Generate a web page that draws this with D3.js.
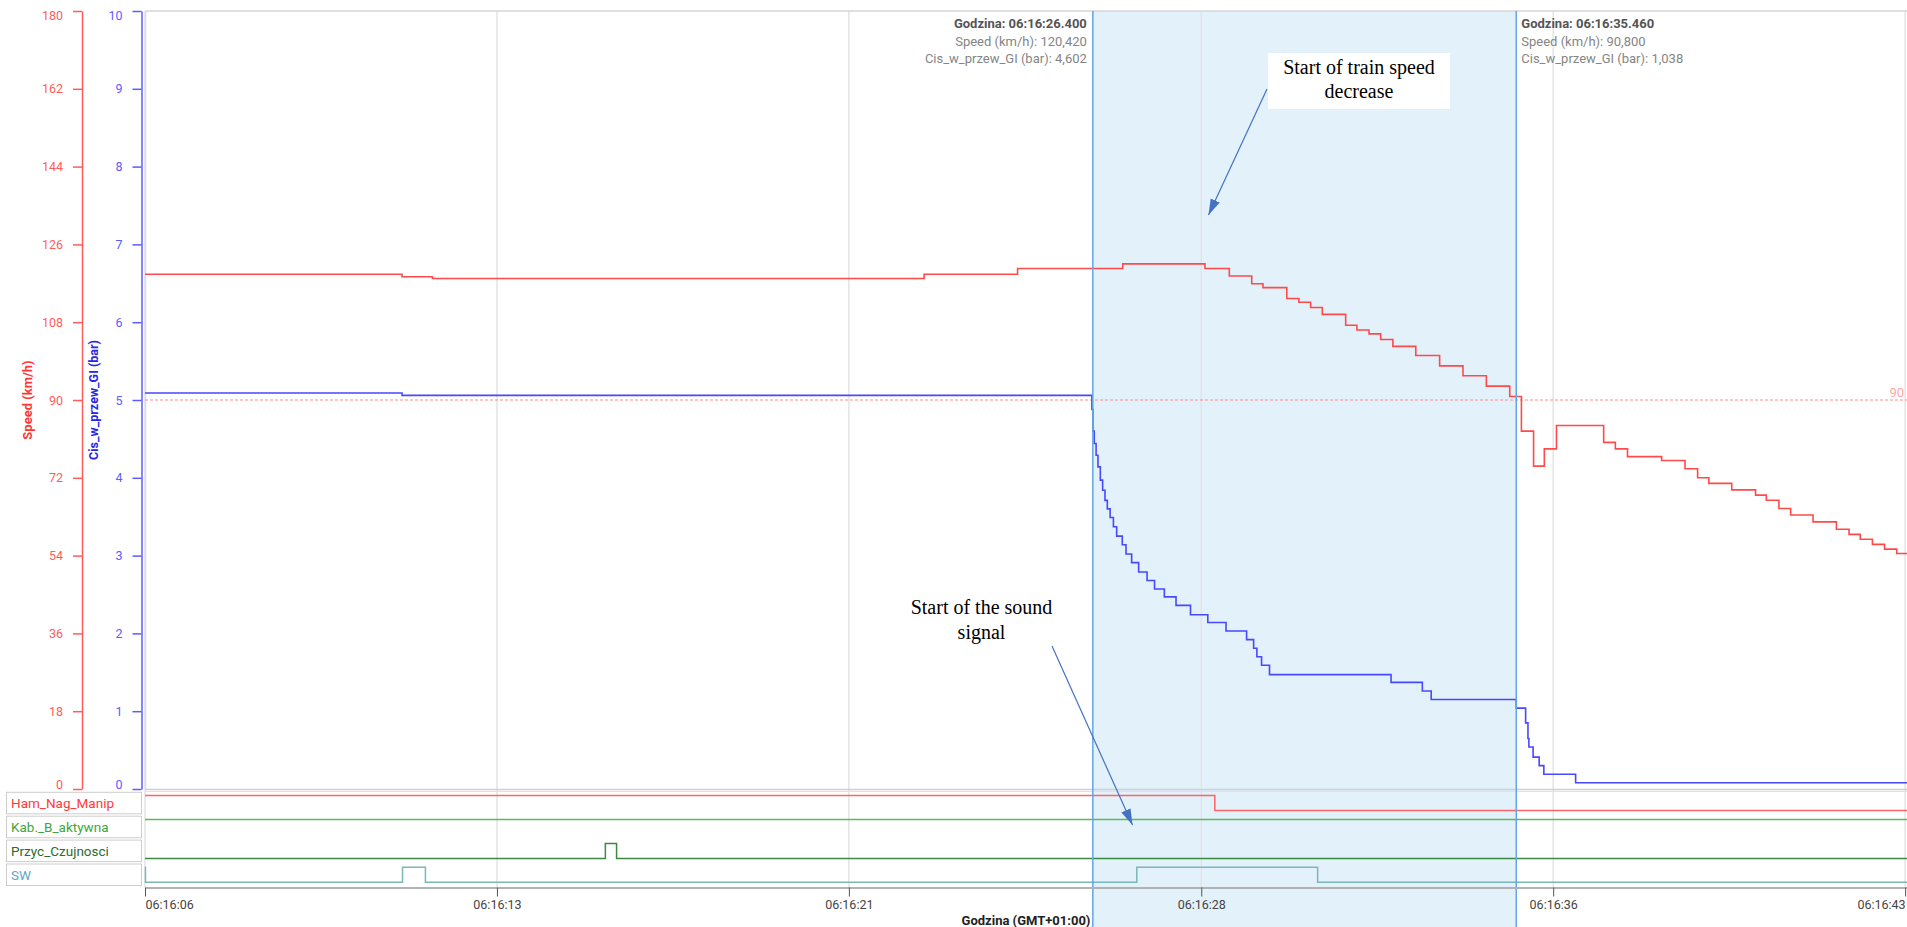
<!DOCTYPE html>
<html>
<head>
<meta charset="utf-8">
<script src="https://cdn.jsdelivr.net/npm/d3@7"></script>
<style>
  body { margin: 0; background: #fff; }
  svg { display: block; }
</style>
</head>
<body>
<svg></svg>
<script>
// times are seconds after 06:16:00
const speedT = [6.12, 11.62, 12.27, 22.79, 24.79, 27.04, 28.80, 29.32, 29.80, 30.04, 30.55, 30.81, 31.06, 31.31,
    31.81, 32.05, 32.31, 32.56, 32.82, 33.31, 33.82, 34.32, 34.82, 35.32, 35.57, 35.83, 36.06, 36.32, 37.33,
    37.58, 37.84, 38.57, 39.07, 39.34, 39.58, 40.07, 40.58, 40.81, 41.08, 41.33, 41.81, 42.31, 42.58, 42.82,
    43.08, 43.34, 43.60, 43.82];
const speedV = [119.1, 118.5, 118.1, 119.1, 120.42, 121.5, 120.42, 118.7, 116.9, 116.0, 113.5, 112.6, 111.4, 109.8,
    107.3, 106.2, 105.3, 104.0, 102.4, 100.3, 97.9, 95.6, 93.2, 90.8, 82.8, 74.7, 78.7, 84.1, 80.2,
    78.7, 76.9, 76.0, 74.1, 72.0, 70.7, 69.2, 68.0, 66.8, 64.9, 63.4, 61.8, 60.1, 58.9, 57.8,
    56.6, 55.5, 54.5, 54.5];

const presT = [6.12, 11.62, 26.38, 26.40, 26.43, 26.47, 26.51, 26.56, 26.61, 26.66, 26.71, 26.77, 26.84, 26.91,
    27.03, 27.11, 27.23, 27.38, 27.56, 27.72, 27.93, 28.18, 28.49, 28.86, 29.25, 29.69, 29.84, 29.91, 30.01,
    30.18, 32.78, 33.45, 33.64, 35.46, 35.66, 35.71, 35.73, 35.82, 35.95, 36.05, 36.73, 43.82];
const presV = [5.09, 5.06, 4.88, 4.602, 4.44, 4.29, 4.14, 3.97, 3.84, 3.71, 3.60, 3.49, 3.37, 3.25,
    3.14, 3.02, 2.91, 2.79, 2.68, 2.57, 2.47, 2.36, 2.24, 2.14, 2.03, 1.92, 1.81, 1.70, 1.59,
    1.47, 1.37, 1.26, 1.15, 1.04, 0.85, 0.65, 0.54, 0.41, 0.30, 0.19, 0.08, 0.08];

// digital signals (1 = high, 0 = low)
const signalNames = ["Ham_Nag_Manip", "Kab._B_aktywna", "Przyc_Czujnosci", "SW"];
const hamT = [6.12, 29.01], hamV = [1, 0];
const kabT = [6.12], kabV = [1];
const przycT = [6.12, 15.97, 16.21], przycV = [0, 1, 0];
const swT = [6.12, 6.13, 11.63, 12.12, 27.34, 31.21], swV = [1, 0, 1, 0, 1, 0];

// axes
const timeDomain = [6.12, 43.82];
const tickTimes = [6.12, 13.65, 21.18, 28.72, 36.25, 43.78];
const tickLabels = ["06:16:06", "06:16:13", "06:16:21", "06:16:28", "06:16:36", "06:16:43"];
const speedTicks = [0, 18, 36, 54, 72, 90, 108, 126, 144, 162, 180];
const presTicks = [0, 1, 2, 3, 4, 5, 6, 7, 8, 9, 10];
const refSpeed = 90;

// cursors
const cursorT = [26.4, 35.46];
const cursorSpeed = [120.42, 90.8];
const cursorPres = [4.602, 1.038];

var svgWidth = 1907, svgHeight = 927;
var plotLeft = 145, plotRight = 1907, plotTop = 11, plotBottom = 789;
var panelTop = 792.3, rowStep = 23.9, rowH = 21.5, axisY = 887.5;
var font = "Roboto, 'Open Sans', sans-serif";

var svg = d3.select("svg")
    .attr("width", svgWidth)
    .attr("height", svgHeight)
    .style("font-family", font);

svg.append("rect").attr("width", svgWidth).attr("height", svgHeight).attr("fill", "#fff");

var x = d3.scaleLinear().domain(timeDomain).range([plotLeft, plotRight]);
var ySpeed = d3.scaleLinear().domain([0, 180]).range([plotBottom, plotTop]);
var yPres = d3.scaleLinear().domain([0, 10]).range([plotBottom, plotTop]);

//cursor band
svg.append("rect")
    .attr("x", x(cursorT[0]))
    .attr("y", plotTop)
    .attr("width", x(cursorT[1]) - x(cursorT[0]))
    .attr("height", svgHeight - plotTop)
    .attr("fill", "#e3f1fb");

//vertical grid
svg.append("g").selectAll("line")
    .data(tickTimes)
    .enter()
    .append("line")
    .attr("x1", d => x(d)).attr("x2", d => x(d))
    .attr("y1", plotTop).attr("y2", axisY)
    .attr("stroke", "#e4e4e4")
    .attr("stroke-width", 1.5);

//frame
svg.append("line").attr("x1", plotLeft).attr("x2", plotRight).attr("y1", plotTop).attr("y2", plotTop)
    .attr("stroke", "#d6d6d6").attr("stroke-width", 1.5);
svg.append("line").attr("x1", plotLeft).attr("x2", plotRight).attr("y1", plotBottom + 0.5).attr("y2", plotBottom + 0.5)
    .attr("stroke", "#cfcfcf").attr("stroke-width", 1.5);
svg.append("line").attr("x1", plotLeft).attr("x2", plotRight).attr("y1", plotBottom + 2.5).attr("y2", plotBottom + 2.5)
    .attr("stroke", "#e2e2e2").attr("stroke-width", 1);
svg.append("line").attr("x1", plotLeft + 0.5).attr("x2", plotLeft + 0.5).attr("y1", plotTop).attr("y2", plotBottom)
    .attr("stroke", "#dcdcdc").attr("stroke-width", 1.5);

//reference line 90 km/h
svg.append("line")
    .attr("x1", plotLeft).attr("x2", plotRight)
    .attr("y1", ySpeed(refSpeed)).attr("y2", ySpeed(refSpeed))
    .attr("stroke", "#ff8c8c")
    .attr("stroke-width", 1)
    .attr("stroke-dasharray", "3,2");
svg.append("text")
    .attr("x", 1904).attr("y", ySpeed(refSpeed) - 3)
    .attr("text-anchor", "end")
    .attr("font-size", 13)
    .attr("fill", "#ffa6a6")
    .text(refSpeed);

//speed + pressure lines
var speedData = speedT.map((t, i) => ({ t: t, v: speedV[i] }));
var presData = presT.map((t, i) => ({ t: t, v: presV[i] }));

var speedLine = d3.line().x(d => x(d.t)).y(d => ySpeed(d.v)).curve(d3.curveStepAfter);
var presLine = d3.line().x(d => x(d.t)).y(d => yPres(d.v)).curve(d3.curveStepAfter);

svg.append("path")
    .attr("d", presLine(presData))
    .attr("fill", "none")
    .attr("stroke", "#4848ff")
    .attr("stroke-width", 1.6);

svg.append("path")
    .attr("d", speedLine(speedData))
    .attr("fill", "none")
    .attr("stroke", "#ff4a4a")
    .attr("stroke-width", 1.6);

//digital signals panel
var signals = [
    { name: signalNames[0], t: hamT, v: hamV, line: "#ff6464", text: "#ff3a3a" },
    { name: signalNames[1], t: kabT, v: kabV, line: "#5cb85c", text: "#3da63d" },
    { name: signalNames[2], t: przycT, v: przycV, line: "#3b8a44", text: "#2c6b2f" },
    { name: signalNames[3], t: swT, v: swV, line: "#7ab8b8", text: "#5aa8c4" }
];

signals.forEach((s, i) => {
    var top = panelTop + i * rowStep;
    var yRow = d3.scaleLinear().domain([0, 1]).range([top + 18.3, top + 3.3]);
    var pts = s.t.map((t, j) => ({ t: t, v: s.v[j] }));
    pts.push({ t: timeDomain[1], v: s.v[s.v.length - 1] });
    var sigLine = d3.line().x(d => x(d.t)).y(d => yRow(d.v)).curve(d3.curveStepAfter);

    svg.append("path")
        .attr("d", sigLine(pts))
        .attr("fill", "none")
        .attr("stroke", s.line)
        .attr("stroke-width", 1.5);

    svg.append("rect")
        .attr("x", 6.5).attr("y", top)
        .attr("width", 135).attr("height", rowH)
        .attr("fill", "#fff")
        .attr("stroke", "#cdcdcd");
    svg.append("text")
        .attr("x", 11).attr("y", top + rowH / 2)
        .attr("dominant-baseline", "central")
        .attr("font-size", 13.5)
        .attr("fill", s.text)
        .text(s.name);
});

//cursor lines
svg.selectAll(".cursor")
    .data(cursorT)
    .enter()
    .append("line")
    .attr("class", "cursor")
    .attr("x1", d => x(d)).attr("x2", d => x(d))
    .attr("y1", plotTop).attr("y2", svgHeight)
    .attr("stroke", "#62a6e8")
    .attr("stroke-width", 1.5);

//x axis
var xAxis = d3.axisBottom(x)
    .tickValues(tickTimes)
    .tickFormat((d, i) => tickLabels[i])
    .tickSize(9)
    .tickSizeOuter(0)
    .tickPadding(4);

var gx = svg.append("g")
    .attr("transform", "translate(0," + axisY + ")")
    .call(xAxis);
gx.select(".domain").attr("stroke", "#b2b2b2").attr("stroke-width", 2);
gx.selectAll(".tick line").attr("stroke", "#555");
gx.selectAll(".tick text")
    .attr("font-size", 12.5)
    .attr("font-family", font)
    .attr("fill", "#444")
    .attr("text-anchor", (d, i) => i === 0 ? "start" : (i === tickTimes.length - 1 ? "end" : "middle"));

svg.append("text")
    .attr("x", (plotLeft + plotRight) / 2)
    .attr("y", 925)
    .attr("text-anchor", "middle")
    .attr("font-size", 13)
    .attr("font-weight", "bold")
    .attr("fill", "#222")
    .text("Godzina (GMT+01:00)");

//y axes
function styleY(g, color, maxV) {
    g.select(".domain").attr("stroke", color).attr("stroke-width", 1.5);
    g.selectAll(".tick line").attr("stroke", color).attr("stroke-width", 1.5);
    g.selectAll(".tick text")
        .attr("font-size", 12.5)
        .attr("font-family", font)
        .attr("fill", color)
        .attr("y", d => d === maxV ? 4 : (d === 0 ? -4.5 : 0));
}

var gSpeed = svg.append("g")
    .attr("transform", "translate(82,0)")
    .call(d3.axisLeft(ySpeed).tickValues(speedTicks).tickSize(9).tickSizeOuter(0).tickPadding(10));
styleY(gSpeed, "#ff5c5c", 180);

var gPres = svg.append("g")
    .attr("transform", "translate(141.5,0)")
    .call(d3.axisLeft(yPres).tickValues(presTicks).tickSize(9).tickSizeOuter(0).tickPadding(10));
styleY(gPres, "#5c5cff", 10);

svg.append("text")
    .attr("transform", "translate(27.5," + (plotTop + plotBottom) / 2 + ") rotate(-90)")
    .attr("text-anchor", "middle")
    .attr("dominant-baseline", "central")
    .attr("font-size", 13)
    .attr("font-weight", "bold")
    .attr("fill", "#ff3636")
    .text("Speed (km/h)");

svg.append("text")
    .attr("transform", "translate(93.5," + (plotTop + plotBottom) / 2 + ") rotate(-90)")
    .attr("text-anchor", "middle")
    .attr("dominant-baseline", "central")
    .attr("font-size", 12.5)
    .attr("font-weight", "bold")
    .attr("fill", "#2626e8")
    .text("Cis_w_przew_GI (bar)");

//cursor tooltips
var fmt3 = v => d3.format(".3f")(v).replace(".", ",");
var fmtSec = v => d3.format("06.3f")(v);

cursorT.forEach((t, i) => {
    var left = i === 0;
    var tx = left ? x(t) - 6 : x(t) + 5;
    var tip = svg.append("g")
        .attr("font-size", 13)
        .attr("text-anchor", left ? "end" : "start");
    tip.append("text").attr("x", tx).attr("y", 28)
        .attr("font-weight", "bold").attr("fill", "#555")
        .text("Godzina: 06:16:" + fmtSec(t));
    tip.append("text").attr("x", tx).attr("y", 46)
        .attr("fill", "#858585")
        .text("Speed (km/h): " + fmt3(cursorSpeed[i]));
    tip.append("text").attr("x", tx).attr("y", 63)
        .attr("fill", "#858585")
        .text("Cis_w_przew_GI (bar): " + fmt3(cursorPres[i]));
});

//annotations
svg.append("defs").append("marker")
    .attr("id", "head")
    .attr("viewBox", "0 0 16 10")
    .attr("refX", 16).attr("refY", 5)
    .attr("markerUnits", "userSpaceOnUse")
    .attr("markerWidth", 16).attr("markerHeight", 11)
    .attr("orient", "auto")
    .append("path")
    .attr("d", "M0,0 L16,5 L0,10 Z")
    .attr("fill", "#4472c4");

svg.append("line")
    .attr("x1", 1267).attr("y1", 89)
    .attr("x2", 1208.5).attr("y2", 215)
    .attr("stroke", "#4472c4").attr("stroke-width", 1.2)
    .attr("marker-end", "url(#head)");

svg.append("rect")
    .attr("x", 1268).attr("y", 53)
    .attr("width", 182).attr("height", 56)
    .attr("fill", "#fff");

var ann1 = svg.append("text")
    .attr("font-family", "'Liberation Serif', 'Times New Roman', serif")
    .attr("font-size", 20)
    .attr("text-anchor", "middle")
    .attr("fill", "#000");
ann1.append("tspan").attr("x", 1359).attr("y", 73.5).text("Start of train speed");
ann1.append("tspan").attr("x", 1359).attr("y", 97.5).text("decrease");

svg.append("line")
    .attr("x1", 1052).attr("y1", 646)
    .attr("x2", 1132.5).attr("y2", 825)
    .attr("stroke", "#4472c4").attr("stroke-width", 1.2)
    .attr("marker-end", "url(#head)");

var ann2 = svg.append("text")
    .attr("font-family", "'Liberation Serif', 'Times New Roman', serif")
    .attr("font-size", 20)
    .attr("text-anchor", "middle")
    .attr("fill", "#000");
ann2.append("tspan").attr("x", 981.5).attr("y", 614).text("Start of the sound");
ann2.append("tspan").attr("x", 981.5).attr("y", 639).text("signal");
</script>
</body>
</html>
